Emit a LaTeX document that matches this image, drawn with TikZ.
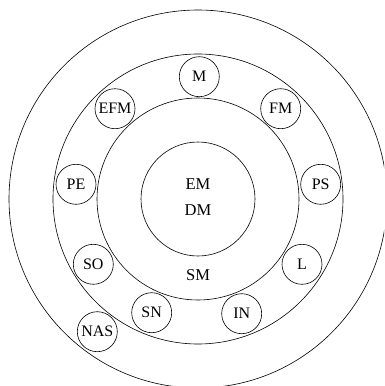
\documentclass[tikz,border=0pt]{standalone}
\usepackage{fontspec}
\setmainfont{Liberation Serif}
\begin{document}
\begin{tikzpicture}[x=1pt,y=-1pt,line width=0.6pt,
  ring/.style={draw,circle,inner sep=0pt},
  small/.style={draw,circle,inner sep=0pt,minimum size=40pt,font=\fontsize{16}{18}\selectfont},
  lbl/.style={font=\fontsize{16.5}{19}\selectfont,inner sep=0pt}]
\useasboundingbox (0,0) rectangle (384,386);
\clip (0,0) rectangle (384,386);
\coordinate (c) at (198,199);
\node[ring,minimum size=378pt] (outer) at (c) {};
\node[ring,minimum size=290pt] (middle) at (c) {};
\node[ring,minimum size=202pt] (inner) at (c) {};
\node[ring,minimum size=114pt] (core) at (c) {};
\node[lbl] (em) at (198,184.5) {EM};
\node[lbl] (dm) at (198,210.5) {DM};
\node[lbl] (sm) at (198,275.5) {SM};
\node[small] (m) at (199.3,76.7) {M};
\node[small] (fm) at (280.7,108.7) {FM};
\node[small] (efm) at (115,108.7) {EFM};
\node[small] (pe) at (76,184.3) {PE};
\node[small] (ps) at (320.7,184.3) {PS};
\node[small] (so) at (93.3,264.3) {SO};
\node[small] (l) at (302,264.3) {L};
\node[small] (sn) at (151.7,312.7) {SN};
\node[small] (in) at (241.7,313.7) {IN};
\node[small] (nas) at (97.3,331.7) {NAS};
\end{tikzpicture}
\end{document}
